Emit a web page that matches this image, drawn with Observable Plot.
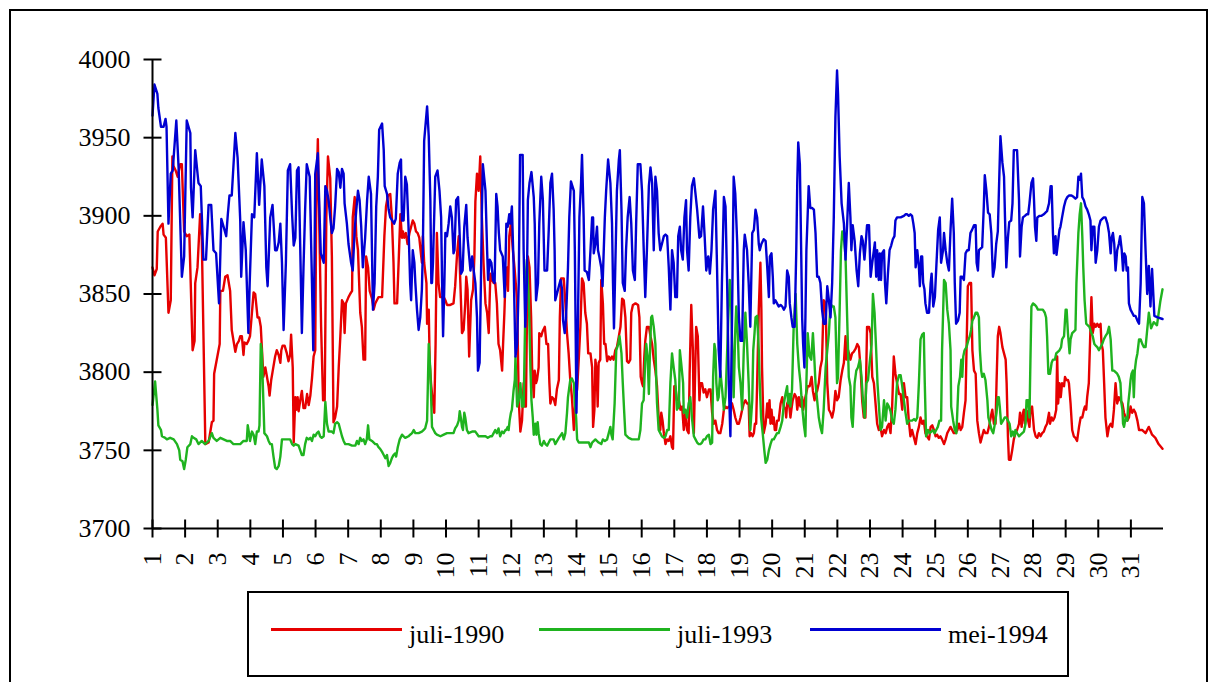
<!DOCTYPE html>
<html>
<head>
<meta charset="utf-8">
<script src="https://cdn.jsdelivr.net/npm/d3@7"></script>
<script src="https://cdn.jsdelivr.net/npm/@observablehq/plot@0.6"></script>
<style>
  html, body { margin: 0; padding: 0; background: #fff; overflow: hidden; }
  body { width: 1213px; height: 682px; position: relative; font-family: "Liberation Serif", "Times New Roman", serif; }
  #frame { position: absolute; left: 9px; top: 9px; width: 1199px; height: 1000px; border: 2px solid #000; box-sizing: border-box; }
  #chart { position: absolute; left: 0; top: 0; }
  #legend { position: absolute; left: 247px; top: 591px; width: 822px; height: 86px; border: 2px solid #000; box-sizing: border-box; background: #fff; }
  .sw { position: absolute; height: 3px; }
  .lt { position: absolute; font-size: 26px; line-height: 26px; white-space: nowrap; color: #000; }
</style>
</head>
<body>
<div id="frame"></div>
<div id="chart"></div>
<div id="legend"></div>
<script>
// ---- data (day of month, value) ----
const seriesNames = ["juli-1990", "juli-1993", "mei-1994"];
const seriesColors = ["#e60000", "#1fb31f", "#0000d2"];
const dayTicks = [1,2,3,4,5,6,7,8,9,10,11,12,13,14,15,16,17,18,19,20,21,22,23,24,25,26,27,28,29,30,31];
const yTicks = [3700, 3750, 3800, 3850, 3900, 3950, 4000];

const juli1990 = [[1.00,3867],[1.06,3862],[1.13,3866],[1.16,3890],[1.24,3893],[1.31,3895],[1.34,3888],[1.41,3886],[1.49,3838],[1.56,3846],[1.61,3938],[1.64,3932],[1.71,3929],[1.77,3925],[1.85,3933],[1.90,3933],[1.97,3890],[2.05,3887],[2.13,3888],[2.23,3814],[2.29,3820],[2.31,3857],[2.38,3867],[2.46,3901],[2.51,3887],[2.62,3754],[2.72,3755],[2.82,3768],[2.87,3769],[2.89,3799],[2.97,3808],[3.06,3818],[3.08,3852],[3.16,3852],[3.23,3861],[3.30,3862],[3.38,3852],[3.43,3827],[3.54,3813],[3.59,3818],[3.65,3820],[3.69,3823],[3.74,3823],[3.79,3811],[3.82,3819],[3.89,3818],[3.94,3820],[3.99,3823],[4.10,3851],[4.15,3850],[4.22,3835],[4.27,3835],[4.32,3829],[4.40,3797],
[4.46,3803],[4.56,3791],[4.59,3785],[4.64,3795],[4.68,3800],[4.76,3810],[4.81,3814],[4.87,3811],[4.92,3806],[4.95,3814],[4.99,3817],[5.05,3817],[5.12,3812],[5.17,3807],[5.22,3811],[5.25,3824],[5.30,3803],[5.33,3755],[5.38,3784],[5.41,3776],[5.45,3784],[5.48,3775],[5.53,3782],[5.58,3788],[5.63,3777],[5.68,3777],[5.74,3786],[5.79,3779],[5.84,3785],[5.89,3796],[5.94,3810],[5.99,3814],[6.02,3904],[6.07,3949],[6.11,3899],[6.17,3829],[6.23,3782],[6.28,3782],[6.33,3899],[6.38,3938],[6.45,3924],[6.50,3874],[6.55,3768],[6.60,3771],[6.66,3778],[6.71,3803],[6.76,3823],[6.81,3846],[6.86,3844],[6.89,3825],[6.93,3844],[7.01,3848],[7.06,3850],[7.12,3852],[7.14,3899],[7.20,3912],[7.25,3887],[7.30,3878],[7.37,3838],[7.42,3829],[7.47,3808],[7.52,3808],[7.55,3874],[7.61,3867],[7.66,3852],[7.73,3847],[7.78,3840],[7.83,3844],[7.88,3846],[7.93,3848],[8.04,3848],[8.11,3887],[8.16,3906],[8.22,3913],
[8.29,3914],[8.34,3899],[8.39,3870],[8.42,3844],[8.50,3844],[8.55,3872],[8.60,3901],[8.65,3886],[8.68,3890],[8.72,3886],[8.77,3889],[8.82,3882],[8.88,3889],[8.93,3893],[8.98,3897],[9.03,3895],[9.08,3890],[9.13,3889],[9.18,3886],[9.23,3876],[9.26,3870],[9.29,3887],[9.33,3870],[9.40,3857],[9.42,3831],[9.47,3840],[9.50,3806],[9.54,3793],[9.59,3782],[9.64,3774],[9.68,3818],[9.72,3889],[9.77,3857],[9.82,3848],[9.93,3848],[9.98,3846],[10.03,3843],[10.13,3843],[10.23,3844],[10.28,3855],[10.34,3876],[10.39,3887],[10.44,3857],[10.49,3825],[10.54,3827],[10.59,3844],[10.62,3861],[10.66,3853],[10.71,3810],[10.77,3846],[10.83,3853],[10.87,3874],[10.90,3909],[10.95,3927],[11.00,3916],[11.05,3938],[11.10,3899],[11.15,3870],[11.21,3844],[11.26,3838],[11.31,3825],[11.36,3863],[11.41,3859],[11.46,3857],[11.51,3857],[11.56,3844],[11.61,3818],[11.66,3814],[11.72,3801],[11.75,3818],[11.79,3838],[11.82,3857],[11.87,3867],[11.90,3852],[11.94,3887],[11.99,3895],[12.05,3878],[12.10,3867],
[12.18,3846],[12.23,3782],[12.28,3762],[12.33,3769],[12.38,3793],[12.41,3778],[12.45,3778],[12.48,3831],[12.51,3874],[12.56,3867],[12.61,3835],[12.64,3803],[12.69,3784],[12.72,3801],[12.76,3793],[12.79,3795],[12.84,3803],[12.86,3825],[12.92,3823],[12.96,3826],[13.03,3829],[13.08,3818],[13.13,3818],[13.17,3793],[13.20,3780],[13.25,3784],[13.30,3783],[13.35,3779],[13.40,3789],[13.46,3795],[13.49,3835],[13.53,3860],[13.61,3860],[13.66,3844],[13.71,3825],[13.76,3812],[13.81,3795],[13.86,3784],[13.92,3763],[13.97,3782],[14.02,3789],[14.07,3808],[14.12,3829],[14.17,3860],[14.22,3857],[14.27,3838],[14.32,3831],[14.36,3812],[14.43,3812],[14.48,3803],[14.51,3765],[14.55,3776],[14.58,3808],[14.62,3801],[14.65,3778],[14.68,3806],[14.73,3808],[14.76,3859],[14.81,3844],[14.85,3818],[14.89,3818],[14.94,3807],[14.99,3810],[15.04,3808],[15.09,3810],[15.14,3808],[15.19,3814],[15.24,3816],[15.30,3823],[15.35,3829],[15.40,3847],[15.45,3846],[15.50,3835],[15.55,3807],[15.60,3806],[15.65,3808],[15.68,3838],[15.73,3843],[15.81,3844],[15.89,3843],[15.93,3835],
[15.97,3797],[16.01,3793],[16.04,3791],[16.08,3810],[16.11,3820],[16.16,3829],[16.22,3829],[16.27,3823],[16.32,3818],[16.37,3808],[16.42,3801],[16.47,3791],[16.52,3771],[16.57,3763],[16.60,3774],[16.64,3769],[16.68,3761],[16.73,3754],[16.78,3757],[16.83,3756],[16.88,3759],[16.93,3752],[16.96,3751],[17.00,3791],[17.03,3791],[17.08,3782],[17.14,3782],[17.19,3776],[17.24,3778],[17.29,3763],[17.34,3774],[17.39,3763],[17.44,3761],[17.47,3799],[17.52,3843],[17.57,3814],[17.60,3761],[17.63,3791],[17.67,3829],[17.72,3823],[17.77,3782],[17.80,3793],[17.85,3793],[17.90,3787],[17.95,3789],[18.00,3784],[18.06,3789],[18.11,3789],[18.16,3774],[18.21,3767],[18.26,3769],[18.31,3763],[18.36,3761],[18.41,3761],[18.47,3767],[18.52,3776],[18.57,3778],[18.62,3777],[18.67,3778],[18.72,3778],[18.77,3780],[18.82,3776],[18.87,3771],[18.93,3767],[18.98,3767],[19.03,3771],[19.08,3776],[19.13,3780],[19.18,3782],[19.23,3780],[19.28,3780],[19.31,3759],[19.35,3761],[19.40,3759],[19.44,3761],[19.47,3767],[19.51,3767],[19.54,3793],[19.59,3840],[19.64,3870],[19.67,3840],[19.69,3803],[19.74,3761],
[19.80,3767],[19.85,3780],[19.88,3771],[19.92,3782],[19.95,3767],[19.98,3776],[20.02,3767],[20.05,3771],[20.08,3763],[20.12,3763],[20.15,3769],[20.20,3769],[20.26,3780],[20.31,3784],[20.36,3778],[20.41,3776],[20.43,3771],[20.46,3780],[20.51,3782],[20.56,3771],[20.59,3776],[20.63,3782],[20.69,3786],[20.74,3784],[20.77,3776],[20.82,3784],[20.87,3778],[20.92,3784],[20.95,3776],[21.00,3782],[21.04,3786],[21.09,3791],[21.15,3791],[21.21,3797],[21.25,3788],[21.30,3782],[21.33,3786],[21.38,3788],[21.43,3793],[21.48,3803],[21.53,3808],[21.58,3846],[21.64,3844],[21.67,3814],[21.69,3793],[21.74,3776],[21.79,3774],[21.84,3771],[21.89,3776],[21.94,3788],[21.99,3782],[22.04,3784],[22.10,3795],[22.15,3801],[22.20,3806],[22.25,3823],[22.28,3808],[22.33,3814],[22.40,3808],[22.45,3812],[22.50,3813],[22.56,3815],[22.61,3818],[22.66,3816],[22.71,3803],[22.76,3782],[22.81,3771],[22.86,3771],[22.91,3829],[22.97,3829],[23.02,3825],[23.07,3797],[23.12,3793],[23.17,3780],[23.22,3767],[23.27,3763],[23.32,3765],[23.37,3759],[23.43,3763],[23.48,3761],[23.53,3765],[23.58,3767],
[23.63,3761],[23.68,3778],[23.73,3810],[23.78,3799],[23.83,3793],[23.89,3786],[23.94,3786],[23.99,3776],[24.04,3793],[24.09,3784],[24.14,3784],[24.19,3769],[24.24,3759],[24.29,3763],[24.35,3758],[24.40,3754],[24.45,3761],[24.50,3765],[24.55,3771],[24.60,3767],[24.65,3769],[24.70,3761],[24.75,3759],[24.81,3757],[24.86,3765],[24.91,3766],[24.96,3763],[25.01,3759],[25.06,3760],[25.11,3758],[25.16,3759],[25.21,3757],[25.27,3754],[25.32,3757],[25.37,3761],[25.42,3763],[25.47,3765],[25.52,3763],[25.57,3761],[25.62,3761],[25.68,3763],[25.73,3767],[25.78,3763],[25.83,3765],[25.88,3774],[25.93,3782],[25.96,3814],[26.00,3855],[26.05,3857],[26.10,3857],[26.14,3814],[26.19,3801],[26.24,3799],[26.29,3769],[26.34,3761],[26.39,3755],[26.44,3759],[26.49,3763],[26.54,3761],[26.60,3761],[26.65,3765],[26.70,3771],[26.75,3776],[26.80,3767],[26.85,3767],[26.88,3793],[26.92,3823],[26.96,3829],[27.00,3825],[27.06,3816],[27.11,3812],[27.16,3808],[27.19,3793],[27.23,3759],[27.26,3744],[27.31,3744],[27.36,3750],[27.41,3757],
[27.46,3761],[27.51,3763],[27.57,3767],[27.60,3774],[27.65,3765],[27.69,3774],[27.72,3776],[27.75,3767],[27.79,3771],[27.82,3775],[27.85,3769],[27.89,3765],[27.92,3776],[27.97,3778],[28.03,3763],[28.08,3759],[28.13,3758],[28.18,3761],[28.23,3759],[28.28,3761],[28.33,3762],[28.38,3765],[28.43,3767],[28.49,3774],[28.52,3767],[28.57,3771],[28.61,3769],[28.66,3771],[28.71,3776],[28.74,3810],[28.77,3780],[28.81,3793],[28.85,3784],[28.89,3793],[28.95,3791],[28.98,3797],[29.02,3795],[29.07,3795],[29.10,3793],[29.15,3780],[29.20,3763],[29.25,3759],[29.30,3758],[29.35,3756],[29.41,3765],[29.46,3771],[29.51,3771],[29.56,3776],[29.59,3778],[29.63,3776],[29.66,3784],[29.71,3793],[29.74,3814],[29.79,3848],[29.83,3825],[29.88,3831],[29.92,3829],[29.97,3831],[30.02,3829],[30.07,3831],[30.10,3818],[30.14,3814],[30.18,3793],[30.22,3771],[30.28,3759],[30.33,3765],[30.38,3767],[30.43,3765],[30.48,3776],[30.53,3793],[30.58,3780],[30.63,3784],[30.68,3782],[30.74,3780],[30.79,3774],[30.84,3771],[30.89,3769],[30.94,3771],[30.99,3778],[31.04,3774],[31.09,3776],[31.14,3774],[31.20,3769],[31.25,3763],[31.30,3763],[31.35,3763],[31.40,3762],[31.45,3761],[31.55,3765],[31.65,3760],[31.75,3758],[31.85,3754],[31.97,3751]];

const juli1993 = [[1.00,3779],[1.08,3794],[1.15,3776],[1.18,3766],[1.26,3763],[1.29,3759],[1.39,3758],[1.44,3757],[1.54,3758],[1.65,3757],[1.75,3754],[1.82,3750],[1.85,3744],[1.92,3743],[1.97,3738],[2.02,3744],[2.07,3752],[2.16,3754],[2.21,3759],[2.26,3758],[2.34,3757],[2.41,3754],[2.51,3756],[2.61,3754],[2.72,3756],[2.82,3761],[2.87,3758],[2.97,3756],[3.08,3758],[3.18,3757],[3.28,3756],[3.38,3756],[3.48,3754],[3.58,3754],[3.69,3754],[3.79,3756],[3.89,3756],[3.92,3766],[3.96,3761],[3.99,3756],[4.05,3762],[4.10,3760],[4.15,3754],[4.20,3762],[4.25,3762],[4.28,3766],[4.32,3818],[4.35,3814],[4.43,3761],
[4.51,3759],[4.56,3756],[4.61,3754],[4.66,3754],[4.71,3746],[4.76,3739],[4.81,3738],[4.87,3740],[4.92,3746],[4.97,3757],[5.02,3757],[5.12,3757],[5.22,3757],[5.28,3754],[5.33,3753],[5.38,3754],[5.48,3753],[5.58,3747],[5.63,3747],[5.68,3754],[5.73,3758],[5.79,3757],[5.84,3758],[5.89,3756],[5.94,3760],[5.99,3759],[6.04,3761],[6.09,3762],[6.14,3759],[6.19,3758],[6.25,3759],[6.30,3781],[6.35,3767],[6.40,3762],[6.50,3762],[6.55,3761],[6.60,3767],[6.66,3768],[6.71,3767],[6.76,3763],[6.81,3759],[6.86,3756],[6.91,3754],[7.01,3754],[7.12,3753],[7.22,3753],[7.27,3756],[7.32,3754],[7.37,3758],[7.42,3756],[7.47,3757],[7.52,3754],[7.57,3757],[7.61,3766],[7.65,3757],[7.73,3756],[7.83,3754],[7.88,3754],[7.93,3752],[7.98,3751],[8.04,3749],[8.09,3747],[8.14,3745],[8.19,3747],[8.24,3740],
[8.29,3742],[8.34,3745],[8.39,3747],[8.44,3748],[8.47,3746],[8.52,3752],[8.58,3757],[8.65,3760],[8.70,3759],[8.75,3758],[8.85,3759],[8.90,3760],[8.96,3761],[9.01,3763],[9.06,3761],[9.16,3761],[9.26,3762],[9.31,3763],[9.36,3764],[9.42,3769],[9.47,3818],[9.52,3801],[9.57,3765],[9.62,3763],[9.67,3761],[9.72,3760],[9.83,3759],[9.93,3760],[10.03,3761],[10.13,3761],[10.23,3761],[10.28,3764],[10.34,3766],[10.39,3769],[10.42,3775],[10.46,3770],[10.49,3765],[10.52,3763],[10.56,3774],[10.59,3771],[10.64,3763],[10.69,3761],[10.80,3762],[10.90,3762],[11.00,3759],[11.10,3759],[11.21,3759],[11.28,3758],[11.36,3759],[11.41,3759],[11.46,3761],[11.51,3763],[11.56,3761],[11.61,3764],[11.66,3759],[11.72,3762],[11.77,3761],[11.82,3763],[11.85,3763],[11.89,3765],[11.92,3763],[11.95,3769],[11.99,3774],[12.02,3776],[12.07,3788],[12.11,3795],
[12.13,3810],[12.18,3778],[12.23,3782],[12.28,3793],[12.33,3778],[12.38,3778],[12.41,3814],[12.45,3861],[12.48,3872],[12.54,3846],[12.59,3801],[12.62,3782],[12.66,3771],[12.69,3760],[12.74,3767],[12.77,3760],[12.81,3768],[12.84,3761],[12.89,3754],[12.94,3753],[13.00,3756],[13.05,3754],[13.10,3753],[13.15,3755],[13.20,3757],[13.30,3757],[13.35,3754],[13.46,3758],[13.56,3761],[13.61,3757],[13.66,3761],[13.71,3774],[13.74,3784],[13.81,3795],[13.86,3796],[13.92,3793],[13.95,3780],[13.99,3771],[14.02,3757],[14.07,3755],[14.17,3755],[14.27,3755],[14.38,3755],[14.43,3752],[14.48,3755],[14.58,3757],[14.68,3755],[14.76,3754],[14.81,3757],[14.87,3756],[14.94,3757],[14.99,3761],[15.04,3765],[15.07,3760],[15.11,3757],[15.17,3780],[15.22,3814],[15.28,3818],[15.32,3823],[15.38,3812],[15.42,3793],[15.46,3776],[15.50,3760],[15.60,3758],[15.70,3757],[15.81,3757],[15.91,3757],
[15.96,3763],[16.01,3780],[16.06,3782],[16.11,3808],[16.14,3818],[16.18,3810],[16.22,3786],[16.25,3810],[16.29,3835],[16.32,3836],[16.37,3829],[16.42,3818],[16.45,3793],[16.47,3780],[16.52,3763],[16.57,3761],[16.62,3759],[16.68,3758],[16.73,3759],[16.78,3763],[16.83,3763],[16.88,3793],[16.93,3812],[16.98,3803],[17.03,3795],[17.08,3776],[17.14,3778],[17.17,3814],[17.21,3806],[17.27,3793],[17.29,3774],[17.34,3776],[17.39,3771],[17.44,3780],[17.49,3784],[17.54,3771],[17.60,3759],[17.65,3757],[17.70,3755],[17.75,3754],[17.80,3754],[17.85,3755],[17.90,3757],[17.95,3757],[18.00,3759],[18.06,3760],[18.11,3754],[18.16,3755],[18.19,3797],[18.23,3818],[18.26,3814],[18.29,3793],[18.33,3782],[18.36,3784],[18.41,3801],[18.47,3788],[18.52,3776],[18.57,3784],[18.60,3801],[18.65,3831],[18.70,3859],[18.74,3846],[18.78,3814],[18.82,3784],[18.87,3827],[18.90,3842],[18.95,3823],[18.98,3803],[19.03,3793],[19.08,3776],[19.13,3814],[19.18,3838],[19.23,3818],[19.28,3793],[19.33,3763],[19.39,3782],[19.42,3814],[19.46,3825],[19.49,3835],[19.54,3836],[19.59,3814],[19.62,3793],[19.66,3771],[19.71,3761],[19.76,3750],
[19.80,3742],[19.85,3744],[19.90,3750],[19.95,3754],[20.00,3757],[20.05,3757],[20.10,3759],[20.15,3761],[20.20,3761],[20.26,3765],[20.31,3769],[20.36,3780],[20.41,3786],[20.46,3791],[20.49,3780],[20.53,3786],[20.56,3778],[20.61,3789],[20.66,3829],[20.72,3850],[20.77,3818],[20.82,3803],[20.87,3793],[20.92,3778],[20.97,3767],[21.02,3759],[21.05,3793],[21.09,3825],[21.15,3810],[21.20,3808],[21.25,3825],[21.29,3810],[21.33,3793],[21.38,3782],[21.43,3771],[21.48,3765],[21.53,3761],[21.58,3776],[21.64,3803],[21.69,3814],[21.74,3825],[21.79,3844],[21.84,3842],[21.89,3842],[21.94,3835],[21.99,3793],[22.02,3797],[22.07,3840],[22.11,3878],[22.15,3890],[22.20,3886],[22.25,3874],[22.30,3835],[22.35,3797],[22.40,3791],[22.43,3771],[22.47,3765],[22.53,3793],[22.58,3801],[22.63,3803],[22.69,3808],[22.74,3797],[22.79,3780],[22.84,3771],[22.89,3793],[22.94,3795],[22.99,3806],[23.05,3818],[23.09,3850],[23.14,3838],[23.19,3814],[23.23,3793],[23.27,3780],[23.32,3763],[23.37,3765],[23.43,3782],[23.48,3769],[23.53,3780],[23.58,3778],
[23.63,3775],[23.68,3769],[23.73,3767],[23.78,3776],[23.83,3793],[23.89,3798],[23.94,3798],[23.99,3791],[24.04,3782],[24.09,3774],[24.14,3767],[24.19,3769],[24.24,3769],[24.29,3769],[24.35,3770],[24.40,3769],[24.45,3771],[24.50,3793],[24.55,3821],[24.60,3824],[24.65,3825],[24.68,3793],[24.72,3759],[24.78,3763],[24.83,3761],[24.88,3762],[24.93,3763],[24.98,3761],[25.03,3763],[25.08,3765],[25.13,3769],[25.18,3769],[25.21,3814],[25.27,3859],[25.32,3857],[25.37,3840],[25.42,3831],[25.47,3814],[25.49,3778],[25.55,3769],[25.60,3763],[25.65,3761],[25.71,3791],[25.76,3797],[25.80,3808],[25.83,3797],[25.86,3810],[25.90,3814],[25.96,3816],[26.01,3820],[26.06,3823],[26.10,3827],[26.14,3833],[26.19,3835],[26.24,3838],[26.29,3838],[26.34,3835],[26.37,3814],[26.41,3801],[26.44,3797],[26.49,3799],[26.54,3795],[26.60,3782],[26.63,3771],[26.68,3767],[26.73,3763],[26.78,3761],[26.83,3767],[26.88,3774],[26.92,3784],[26.95,3784],[26.98,3778],[27.02,3767],[27.08,3769],[27.13,3771],[27.18,3771],[27.23,3769],[27.28,3767],[27.33,3759],[27.38,3762],[27.43,3759],
[27.46,3763],[27.51,3761],[27.57,3759],[27.62,3760],[27.67,3761],[27.72,3762],[27.77,3767],[27.80,3782],[27.85,3782],[27.89,3771],[27.92,3808],[27.95,3842],[28.00,3844],[28.06,3843],[28.10,3842],[28.15,3840],[28.20,3840],[28.25,3840],[28.30,3840],[28.36,3838],[28.40,3835],[28.43,3823],[28.47,3799],[28.52,3799],[28.57,3806],[28.61,3808],[28.67,3808],[28.71,3812],[28.76,3813],[28.81,3814],[28.86,3816],[28.89,3821],[28.95,3823],[29.00,3840],[29.03,3840],[29.07,3825],[29.12,3812],[29.15,3821],[29.20,3825],[29.25,3826],[29.30,3827],[29.33,3857],[29.39,3889],[29.43,3901],[29.47,3908],[29.51,3887],[29.54,3867],[29.58,3846],[29.63,3831],[29.68,3830],[29.73,3829],[29.79,3825],[29.83,3823],[29.88,3818],[29.92,3817],[29.97,3816],[30.02,3814],[30.07,3816],[30.12,3818],[30.17,3821],[30.22,3823],[30.28,3825],[30.33,3829],[30.38,3821],[30.43,3801],[30.48,3801],[30.53,3800],[30.58,3799],[30.63,3797],[30.68,3793],[30.71,3780],[30.74,3776],[30.76,3767],[30.79,3765],[30.84,3771],[30.89,3769],[30.92,3780],[30.96,3788],[30.99,3795],[31.02,3799],[31.06,3801],[31.09,3784],[31.12,3801],[31.16,3808],[31.20,3812],[31.25,3821],[31.30,3821],[31.35,3818],[31.40,3816],[31.45,3816],[31.55,3838],[31.62,3828],[31.70,3832],[31.80,3830],[31.90,3845],[31.97,3853]];

const mei1994 = [[1.00,3964],[1.06,3984],[1.15,3978],[1.18,3969],[1.26,3957],[1.34,3957],[1.40,3962],[1.43,3957],[1.49,3895],[1.56,3927],[1.62,3929],[1.73,3961],[1.80,3931],[1.90,3861],[1.97,3874],[2.05,3961],[2.16,3953],[2.18,3918],[2.23,3899],[2.31,3942],[2.41,3921],[2.48,3919],[2.56,3872],[2.64,3872],[2.72,3907],[2.80,3907],[2.87,3878],[2.95,3876],[3.04,3844],[3.11,3898],[3.18,3893],[3.26,3887],[3.31,3901],[3.36,3913],[3.43,3913],[3.54,3953],[3.61,3937],[3.69,3897],[3.72,3861],[3.79,3896],[3.86,3878],[3.94,3825],[3.98,3857],[4.05,3901],[4.12,3899],[4.20,3940],[4.27,3907],[4.35,3936],[4.43,3919],[4.49,3867],[4.53,3855],
[4.61,3899],[4.68,3907],[4.76,3878],[4.81,3878],[4.87,3883],[4.92,3895],[4.97,3870],[5.02,3827],[5.09,3870],[5.15,3929],[5.22,3933],[5.28,3901],[5.33,3881],[5.38,3886],[5.43,3929],[5.48,3931],[5.53,3880],[5.58,3825],[5.63,3867],[5.68,3904],[5.73,3933],[5.82,3925],[5.89,3857],[5.93,3814],[5.97,3874],[5.99,3927],[6.07,3940],[6.11,3910],[6.16,3876],[6.25,3870],[6.30,3919],[6.35,3916],[6.40,3910],[6.45,3899],[6.50,3889],[6.55,3892],[6.60,3906],[6.66,3930],[6.71,3928],[6.76,3918],[6.81,3930],[6.86,3927],[6.89,3908],[6.96,3895],[7.01,3882],[7.09,3870],[7.14,3865],[7.20,3891],[7.25,3904],[7.30,3916],[7.35,3910],[7.40,3893],[7.45,3867],[7.52,3886],[7.58,3910],[7.63,3925],[7.70,3914],[7.76,3840],[7.81,3857],[7.86,3906],[7.91,3925],[7.95,3955],[8.04,3959],[8.09,3942],[8.12,3919],[8.19,3914],[8.24,3904],
[8.29,3899],[8.41,3895],[8.46,3898],[8.52,3927],[8.58,3934],[8.62,3936],[8.65,3897],[8.70,3897],[8.75,3925],[8.80,3920],[8.85,3893],[8.90,3857],[8.93,3846],[8.98,3878],[9.03,3870],[9.06,3857],[9.11,3840],[9.16,3827],[9.21,3835],[9.26,3853],[9.29,3878],[9.33,3948],[9.42,3970],[9.47,3951],[9.52,3910],[9.55,3857],[9.57,3857],[9.60,3870],[9.67,3925],[9.74,3929],[9.80,3916],[9.85,3899],[9.88,3857],[9.91,3823],[9.95,3857],[9.98,3889],[10.03,3887],[10.08,3895],[10.13,3906],[10.18,3899],[10.23,3876],[10.26,3878],[10.31,3910],[10.37,3912],[10.41,3893],[10.46,3863],[10.51,3865],[10.56,3893],[10.62,3907],[10.66,3886],[10.71,3874],[10.75,3865],[10.80,3874],[10.85,3865],[10.90,3857],[10.95,3835],[10.98,3801],[11.03,3806],[11.07,3857],[11.10,3903],[11.13,3933],[11.21,3916],[11.26,3878],[11.29,3859],[11.34,3872],[11.39,3870],[11.44,3859],[11.49,3857],[11.54,3914],[11.58,3906],[11.62,3889],[11.66,3878],[11.74,3874],[11.80,3848],[11.85,3895],[11.89,3893],[11.94,3901],[11.97,3895],[12.02,3906],[12.07,3870],
[12.13,3810],[12.18,3818],[12.23,3857],[12.27,3939],[12.35,3939],[12.38,3878],[12.43,3829],[12.48,3857],[12.51,3910],[12.56,3921],[12.62,3928],[12.69,3912],[12.72,3895],[12.76,3846],[12.82,3857],[12.86,3895],[12.92,3925],[12.97,3910],[13.02,3865],[13.10,3865],[13.15,3891],[13.20,3921],[13.25,3927],[13.30,3904],[13.33,3878],[13.35,3846],[13.40,3850],[13.46,3855],[13.51,3859],[13.56,3853],[13.59,3833],[13.64,3825],[13.68,3835],[13.74,3867],[13.78,3899],[13.83,3922],[13.92,3916],[13.95,3878],[14.00,3774],[14.05,3840],[14.09,3899],[14.14,3921],[14.17,3939],[14.22,3899],[14.25,3865],[14.32,3864],[14.38,3859],[14.43,3878],[14.48,3899],[14.51,3899],[14.53,3876],[14.58,3882],[14.63,3893],[14.66,3878],[14.70,3874],[14.76,3867],[14.80,3855],[14.87,3899],[14.91,3916],[14.97,3936],[15.04,3921],[15.09,3895],[15.12,3857],[15.15,3828],[15.19,3867],[15.24,3916],[15.30,3936],[15.33,3942],[15.38,3904],[15.42,3857],[15.48,3852],[15.52,3878],[15.57,3899],[15.63,3912],[15.68,3895],[15.73,3865],[15.79,3859],[15.83,3895],[15.88,3933],
[15.96,3933],[16.01,3916],[16.06,3880],[16.11,3848],[16.16,3878],[16.22,3919],[16.27,3931],[16.32,3921],[16.37,3878],[16.42,3925],[16.47,3916],[16.52,3889],[16.57,3878],[16.62,3882],[16.68,3887],[16.73,3888],[16.78,3887],[16.83,3867],[16.88,3840],[16.93,3878],[16.98,3870],[17.03,3848],[17.08,3848],[17.12,3887],[17.17,3893],[17.21,3878],[17.26,3872],[17.31,3899],[17.36,3910],[17.39,3878],[17.44,3865],[17.49,3899],[17.54,3919],[17.60,3924],[17.65,3914],[17.70,3904],[17.77,3886],[17.82,3887],[17.88,3906],[17.93,3887],[17.98,3865],[18.04,3874],[18.09,3863],[18.14,3878],[18.19,3904],[18.26,3916],[18.31,3867],[18.36,3814],[18.41,3797],[18.46,3857],[18.52,3912],[18.57,3906],[18.62,3857],[18.67,3793],[18.72,3759],[18.77,3835],[18.82,3925],[18.87,3914],[18.93,3882],[18.98,3835],[19.03,3820],[19.08,3820],[19.13,3878],[19.16,3888],[19.23,3878],[19.28,3857],[19.33,3829],[19.39,3889],[19.44,3891],[19.49,3904],[19.54,3899],[19.59,3882],[19.62,3878],[19.67,3882],[19.74,3885],
[19.80,3884],[19.85,3867],[19.90,3848],[19.93,3874],[19.98,3876],[20.02,3861],[20.05,3844],[20.10,3846],[20.15,3844],[20.20,3842],[20.26,3843],[20.31,3842],[20.36,3840],[20.41,3842],[20.46,3865],[20.51,3861],[20.54,3844],[20.59,3835],[20.63,3829],[20.69,3829],[20.74,3878],[20.77,3921],[20.80,3947],[20.85,3933],[20.89,3878],[20.92,3835],[20.95,3818],[20.99,3803],[21.02,3835],[21.05,3878],[21.09,3901],[21.12,3919],[21.17,3905],[21.23,3905],[21.28,3904],[21.33,3889],[21.38,3861],[21.43,3861],[21.48,3857],[21.53,3840],[21.58,3831],[21.64,3831],[21.69,3855],[21.74,3846],[21.79,3835],[21.84,3857],[21.89,3899],[21.94,3963],[21.99,3993],[22.02,3978],[22.07,3938],[22.13,3908],[22.20,3895],[22.25,3872],[22.30,3895],[22.35,3921],[22.40,3899],[22.43,3878],[22.47,3894],[22.53,3884],[22.59,3865],[22.64,3855],[22.69,3876],[22.74,3887],[22.78,3884],[22.83,3872],[22.86,3880],[22.91,3894],[22.97,3894],[23.02,3861],[23.07,3870],[23.12,3878],[23.15,3883],[23.19,3861],[23.22,3878],[23.27,3859],[23.30,3876],[23.34,3859],[23.37,3876],[23.43,3878],[23.46,3857],[23.50,3844],[23.55,3863],[23.60,3878],
[23.65,3881],[23.70,3885],[23.75,3887],[23.78,3897],[23.83,3899],[23.94,3899],[24.04,3900],[24.09,3901],[24.14,3901],[24.19,3900],[24.24,3901],[24.29,3900],[24.33,3895],[24.37,3889],[24.40,3867],[24.45,3878],[24.50,3867],[24.53,3855],[24.57,3874],[24.60,3874],[24.63,3857],[24.67,3853],[24.70,3844],[24.75,3838],[24.81,3838],[24.86,3857],[24.89,3863],[24.94,3842],[24.99,3848],[25.04,3870],[25.09,3891],[25.14,3899],[25.18,3870],[25.24,3878],[25.27,3889],[25.32,3878],[25.37,3870],[25.42,3865],[25.47,3891],[25.52,3911],[25.57,3889],[25.60,3857],[25.64,3831],[25.70,3833],[25.75,3838],[25.78,3861],[25.83,3861],[25.88,3859],[25.93,3876],[25.98,3878],[26.03,3878],[26.08,3889],[26.13,3891],[26.19,3894],[26.24,3894],[26.27,3870],[26.31,3865],[26.34,3878],[26.39,3879],[26.44,3880],[26.49,3906],[26.52,3926],[26.57,3916],[26.62,3902],[26.67,3901],[26.72,3889],[26.77,3861],[26.82,3867],[26.87,3882],[26.92,3890],[26.96,3921],[27.00,3951],[27.06,3934],[27.11,3925],[27.14,3899],[27.18,3867],[27.23,3886],[27.27,3896],[27.33,3897],[27.37,3908],[27.41,3942],
[27.51,3942],[27.57,3910],[27.60,3874],[27.65,3893],[27.69,3899],[27.75,3900],[27.80,3901],[27.85,3901],[27.89,3908],[27.95,3921],[28.00,3924],[28.03,3910],[28.06,3893],[28.10,3884],[28.13,3899],[28.20,3900],[28.26,3900],[28.33,3901],[28.38,3902],[28.43,3903],[28.49,3908],[28.54,3919],[28.57,3919],[28.61,3889],[28.64,3876],[28.69,3887],[28.72,3875],[28.77,3884],[28.81,3891],[28.84,3893],[28.89,3899],[28.95,3906],[29.00,3910],[29.05,3912],[29.10,3913],[29.18,3913],[29.25,3912],[29.30,3911],[29.35,3912],[29.39,3925],[29.43,3923],[29.47,3927],[29.51,3912],[29.56,3910],[29.61,3906],[29.66,3904],[29.71,3901],[29.76,3897],[29.79,3878],[29.83,3893],[29.88,3893],[29.92,3870],[29.97,3878],[30.02,3893],[30.07,3897],[30.12,3898],[30.17,3899],[30.22,3899],[30.28,3895],[30.33,3889],[30.38,3876],[30.41,3886],[30.45,3889],[30.49,3882],[30.53,3865],[30.58,3878],[30.63,3882],[30.67,3887],[30.72,3878],[30.76,3865],[30.80,3876],[30.84,3874],[30.87,3865],[30.91,3867],[30.94,3844],[30.99,3840],[31.04,3838],[31.09,3836],[31.14,3836],[31.20,3833],[31.25,3831],[31.30,3857],[31.35,3912],[31.40,3908],[31.45,3878],[31.50,3850],[31.55,3868],[31.60,3842],[31.65,3866],[31.72,3836],[31.82,3835],[31.97,3834]];

// ---- build ----
const allSeries = [juli1990, juli1993, mei1994];
const rows = allSeries.flatMap((arr, i) => arr.map(([t, v]) => ({t, v, s: seriesNames[i]})));

const vTick = {draw(ctx) { ctx.moveTo(0, -9); ctx.lineTo(0, 9); }};
const hTick = {draw(ctx) { ctx.moveTo(-9, 0); ctx.lineTo(9, 0); }};
const font = "'Liberation Serif', 'Times New Roman', serif";

const chart = Plot.plot({
  width: 1213,
  height: 600,
  marginLeft: 152,
  marginRight: 50,
  marginTop: 59,
  marginBottom: 72,
  style: {fontFamily: font, background: "transparent", overflow: "visible"},
  x: {domain: [1, 32], axis: null},
  y: {domain: [3700, 4000], axis: null},
  color: {domain: seriesNames, range: seriesColors},
  marks: [
    Plot.line(rows, {x: "t", y: "v", z: "s", stroke: "s", strokeWidth: 2.4, strokeLinejoin: "round"}),
    Plot.ruleX([dayTicks[0]], {x: d => d, y1: yTicks[0], y2: yTicks[yTicks.length - 1], stroke: "#000", strokeWidth: 2}),
    Plot.ruleY([yTicks[0]], {y: d => d, x1: dayTicks[0], x2: 32, stroke: "#000", strokeWidth: 2}),
    Plot.dot(dayTicks, {x: d => d, y: () => yTicks[0], symbol: vTick, r: 3, stroke: "#000", fill: "none", strokeWidth: 2}),
    Plot.dot(yTicks, {x: () => dayTicks[0], y: d => d, symbol: hTick, r: 3, stroke: "#000", fill: "none", strokeWidth: 2}),
    Plot.text(dayTicks, {x: d => d, y: () => yTicks[0], text: d => String(d), rotate: -90, textAnchor: "end", dy: 24, fontSize: 26, fill: "#000"}),
    Plot.text(yTicks, {x: () => dayTicks[0], y: d => d, text: d => String(d), textAnchor: "end", dx: -22, fontSize: 26, fill: "#000"})
  ]
});
document.getElementById("chart").appendChild(chart);

// ---- legend (HTML below/around the svg) ----
const legend = document.getElementById("legend");
const legendPos = [{sw: 269, tx: 407}, {sw: 537, tx: 675}, {sw: 808, tx: 946}];
seriesNames.forEach((name, i) => {
  const sw = document.createElement("div");
  sw.className = "sw";
  sw.style.left = (legendPos[i].sw - 247) + "px";
  sw.style.top = (626 - 591) + "px";
  sw.style.width = "131px";
  sw.style.background = seriesColors[i];
  legend.appendChild(sw);
  const tx = document.createElement("div");
  tx.className = "lt";
  tx.style.left = (legendPos[i].tx - 247) + "px";
  tx.style.top = (620 - 591) + "px";
  tx.textContent = name;
  legend.appendChild(tx);
});
</script>
</body>
</html>
